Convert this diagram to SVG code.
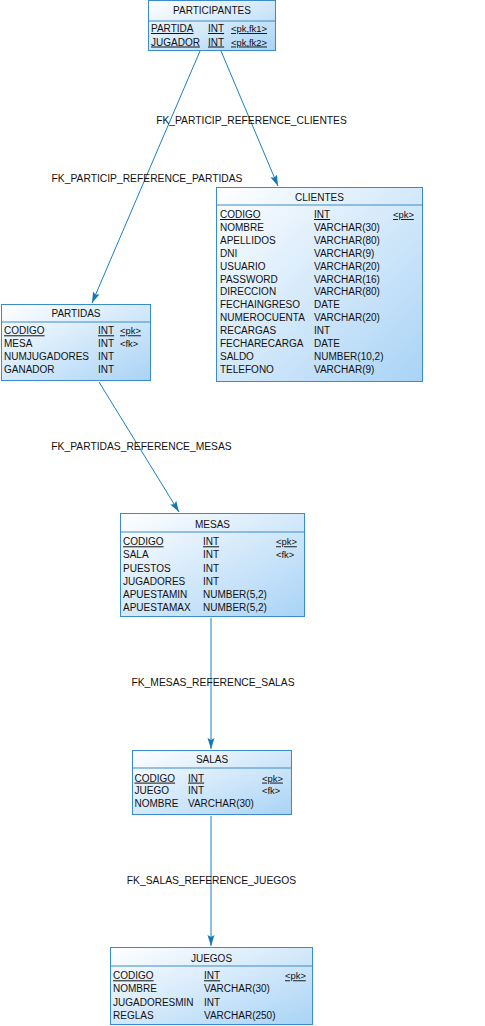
<svg xmlns="http://www.w3.org/2000/svg" width="485" height="1026" viewBox="0 0 485 1026">
<style>
.box{fill:url(#g);stroke:#3a8cc8;stroke-width:1}
.sep{stroke:#3a8cc8;stroke-width:1}
text{font-family:"Liberation Sans",Arial,sans-serif;fill:#111}
.t{font-size:10px;text-anchor:middle}
.r{font-size:10px}
.k{font-size:9.4px}
.u{text-decoration:underline}
.lbl{font-size:10.3px;text-anchor:middle}
.c{stroke:#1a80bd;stroke-width:1;fill:none;marker-end:url(#arr)}
</style>
<defs>
<linearGradient id="g" x1="0" y1="0" x2="1" y2="1">
<stop offset="0" stop-color="#ffffff"/>
<stop offset="1" stop-color="#a9d3f6"/>
</linearGradient>
<marker id="arr" markerUnits="userSpaceOnUse" markerWidth="12" markerHeight="10" refX="11" refY="4" orient="auto">
<path d="M0,0.5 L11,4 L0,7.5 L2,4 Z" fill="#1578b5"/>
</marker>
</defs>
<g id="connectors">
<line class="c" x1="200" y1="51" x2="92" y2="303"/>
<line class="c" x1="221" y1="51" x2="278" y2="186"/>
<line class="c" x1="99" y1="382" x2="179" y2="512"/>
<line class="c" x1="211" y1="618" x2="211" y2="749"/>
<line class="c" x1="211" y1="816" x2="211" y2="946"/>
<text class="lbl" x="251.5" y="124">FK_PARTICIP_REFERENCE_CLIENTES</text>
<text class="lbl" x="147" y="182">FK_PARTICIP_REFERENCE_PARTIDAS</text>
<text class="lbl" x="141.5" y="450">FK_PARTIDAS_REFERENCE_MESAS</text>
<text class="lbl" x="213" y="686">FK_MESAS_REFERENCE_SALAS</text>
<text class="lbl" x="211.5" y="884">FK_SALAS_REFERENCE_JUEGOS</text>
</g>
<g id="participantes">
<rect class="box" x="148.5" y="0.5" width="127" height="50"/>
<line class="sep" x1="148.5" y1="21" x2="275.5" y2="21"/>
<text class="t" x="212" y="13.5">PARTICIPANTES</text>
<text class="r u" x="151" y="32">PARTIDA</text><text class="r u" x="208" y="32">INT</text><text class="k u" x="231" y="32">&lt;pk,fk1&gt;</text>
<text class="r u" x="151" y="45.5">JUGADOR</text><text class="r u" x="208" y="45.5">INT</text><text class="k u" x="231" y="45.5">&lt;pk,fk2&gt;</text>
</g>
<g id="clientes">
<rect class="box" x="216.5" y="187.5" width="206" height="194"/>
<line class="sep" x1="216.5" y1="205" x2="422.5" y2="205"/>
<text class="t" x="319.5" y="200.5">CLIENTES</text>
<text class="r u" x="220" y="218">CODIGO</text><text class="r u" x="314" y="218">INT</text><text class="k u" x="393" y="218">&lt;pk&gt;</text>
<text class="r" x="220" y="230.9">NOMBRE</text><text class="r" x="314" y="230.9">VARCHAR(30)</text>
<text class="r" x="220" y="243.8">APELLIDOS</text><text class="r" x="314" y="243.8">VARCHAR(80)</text>
<text class="r" x="220" y="256.7">DNI</text><text class="r" x="314" y="256.7">VARCHAR(9)</text>
<text class="r" x="220" y="269.6">USUARIO</text><text class="r" x="314" y="269.6">VARCHAR(20)</text>
<text class="r" x="220" y="282.5">PASSWORD</text><text class="r" x="314" y="282.5">VARCHAR(16)</text>
<text class="r" x="220" y="295.4">DIRECCION</text><text class="r" x="314" y="295.4">VARCHAR(80)</text>
<text class="r" x="220" y="308.3">FECHAINGRESO</text><text class="r" x="314" y="308.3">DATE</text>
<text class="r" x="220" y="321.2">NUMEROCUENTA</text><text class="r" x="314" y="321.2">VARCHAR(20)</text>
<text class="r" x="220" y="334.1">RECARGAS</text><text class="r" x="314" y="334.1">INT</text>
<text class="r" x="220" y="347">FECHARECARGA</text><text class="r" x="314" y="347">DATE</text>
<text class="r" x="220" y="359.9">SALDO</text><text class="r" x="314" y="359.9">NUMBER(10,2)</text>
<text class="r" x="220" y="372.8">TELEFONO</text><text class="r" x="314" y="372.8">VARCHAR(9)</text>
</g>
<g id="partidas">
<rect class="box" x="1.5" y="304.5" width="149" height="76"/>
<line class="sep" x1="1.5" y1="322" x2="150.5" y2="322"/>
<text class="t" x="76" y="316.5">PARTIDAS</text>
<text class="r u" x="4" y="334.3">CODIGO</text><text class="r u" x="98" y="334.3">INT</text><text class="k u" x="120" y="334.3">&lt;pk&gt;</text>
<text class="r" x="4" y="347.1">MESA</text><text class="r" x="98" y="347.1">INT</text><text class="k" x="120" y="347.1">&lt;fk&gt;</text>
<text class="r" x="4" y="359.9">NUMJUGADORES</text><text class="r" x="98" y="359.9">INT</text>
<text class="r" x="4" y="372.7">GANADOR</text><text class="r" x="98" y="372.7">INT</text>
</g>
<g id="mesas">
<rect class="box" x="120.5" y="513.5" width="184" height="103"/>
<line class="sep" x1="120.5" y1="532" x2="304.5" y2="532"/>
<text class="t" x="212.5" y="527.5">MESAS</text>
<text class="r u" x="123" y="545.3">CODIGO</text><text class="r u" x="203" y="545.3">INT</text><text class="k u" x="276" y="545.3">&lt;pk&gt;</text>
<text class="r" x="123" y="558.4">SALA</text><text class="r" x="203" y="558.4">INT</text><text class="k" x="276" y="558.4">&lt;fk&gt;</text>
<text class="r" x="123" y="571.5">PUESTOS</text><text class="r" x="203" y="571.5">INT</text>
<text class="r" x="123" y="584.6">JUGADORES</text><text class="r" x="203" y="584.6">INT</text>
<text class="r" x="123" y="597.7">APUESTAMIN</text><text class="r" x="203" y="597.7">NUMBER(5,2)</text>
<text class="r" x="123" y="610.8">APUESTAMAX</text><text class="r" x="203" y="610.8">NUMBER(5,2)</text>
</g>
<g id="salas">
<rect class="box" x="132.5" y="750.5" width="159" height="64"/>
<line class="sep" x1="132.5" y1="768" x2="291.5" y2="768"/>
<text class="t" x="212" y="763">SALAS</text>
<text class="r u" x="134.5" y="781.6">CODIGO</text><text class="r u" x="188" y="781.6">INT</text><text class="k u" x="262" y="781.6">&lt;pk&gt;</text>
<text class="r" x="134.5" y="794.2">JUEGO</text><text class="r" x="188" y="794.2">INT</text><text class="k" x="262" y="794.2">&lt;fk&gt;</text>
<text class="r" x="134.5" y="806.8">NOMBRE</text><text class="r" x="188" y="806.8">VARCHAR(30)</text>
</g>
<g id="juegos">
<rect class="box" x="110.5" y="947.5" width="202" height="77"/>
<line class="sep" x1="110.5" y1="966" x2="312.5" y2="966"/>
<text class="t" x="211.5" y="961.5">JUEGOS</text>
<text class="r u" x="113" y="979.3">CODIGO</text><text class="r u" x="204" y="979.3">INT</text><text class="k u" x="285" y="979.3">&lt;pk&gt;</text>
<text class="r" x="113" y="992.4">NOMBRE</text><text class="r" x="204" y="992.4">VARCHAR(30)</text>
<text class="r" x="113" y="1005.5">JUGADORESMIN</text><text class="r" x="204" y="1005.5">INT</text>
<text class="r" x="113" y="1018.6">REGLAS</text><text class="r" x="204" y="1018.6">VARCHAR(250)</text>
</g>
</svg>
